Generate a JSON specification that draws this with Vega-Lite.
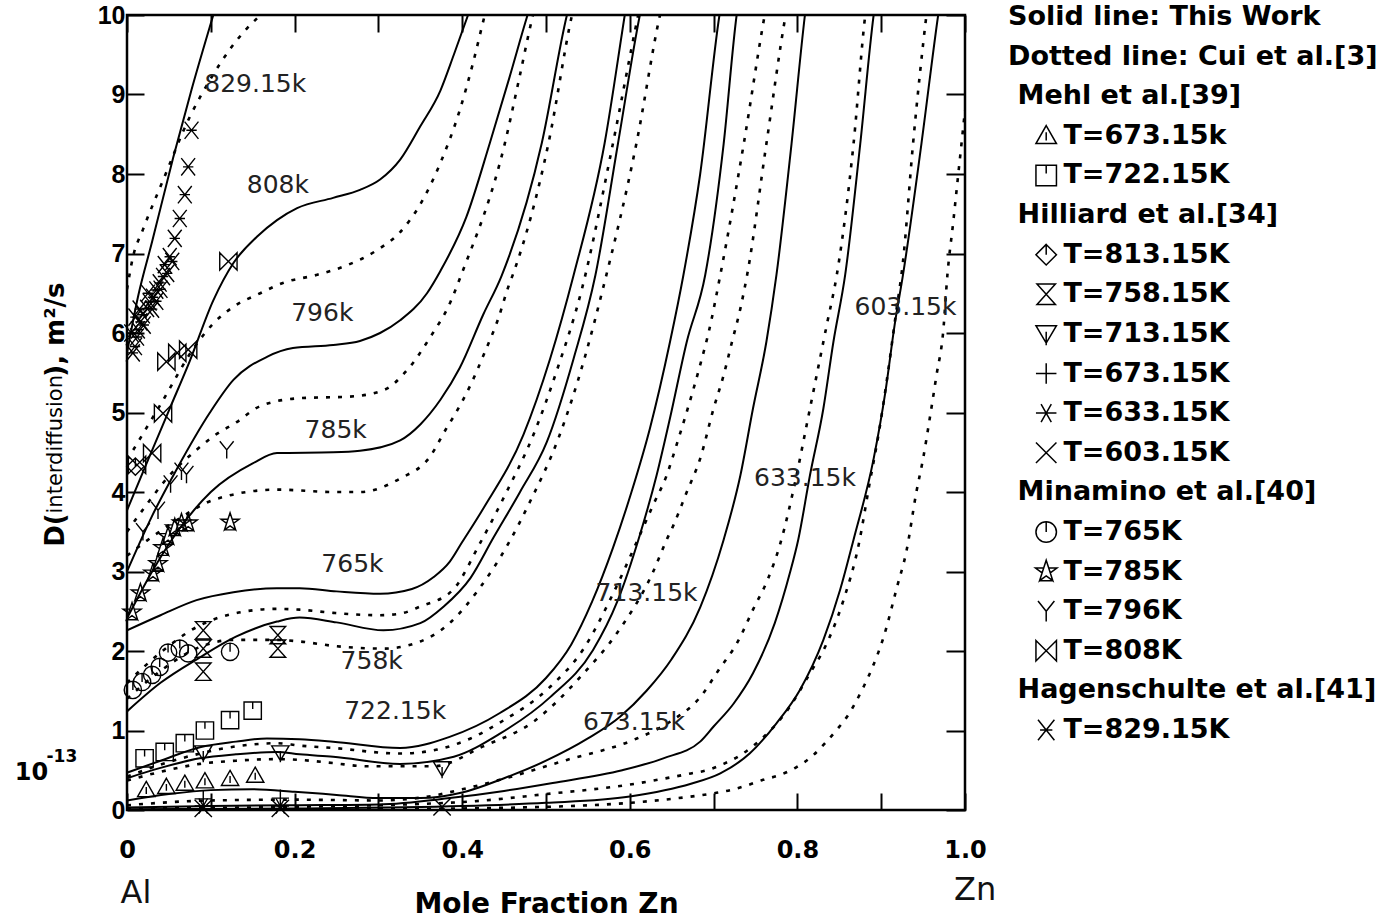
{
  "$schema": "https://vega.github.io/schema/vega-lite/v6.json",
  "width": 838,
  "height": 795,
  "autosize": {"type": "none"},
  "padding": {"left": 127, "top": 15, "right": 425, "bottom": 110},
  "background": "white",
  "config": {
    "view": {"stroke": "black", "strokeWidth": 2.5},
    "font": "DejaVu Sans",
    "axis": {"grid": false, "domain": false, "tickColor": "black", "tickWidth": 2, "labelColor": "black", "titleColor": "black"}
  },
  "datasets": {
    "curves": [
      {"curve":"829.15K","source":"This Work","x":0,"D":5.75},{"curve":"829.15K","source":"This Work","x":0.013,"D":6.45},{"curve":"829.15K","source":"This Work","x":0.03,"D":7.15},{"curve":"829.15K","source":"This Work","x":0.055,"D":8.2},{"curve":"829.15K","source":"This Work","x":0.077,"D":9.06},{"curve":"829.15K","source":"This Work","x":0.103,"D":10.0},{"curve":"829.15K","source":"This Work","x":0.12,"D":10.6},
      {"curve":"808K","source":"This Work","x":0,"D":3.77},{"curve":"808K","source":"This Work","x":0.025,"D":4.4},{"curve":"808K","source":"This Work","x":0.051,"D":5.05},{"curve":"808K","source":"This Work","x":0.075,"D":5.65},{"curve":"808K","source":"This Work","x":0.103,"D":6.41},{"curve":"808K","source":"This Work","x":0.127,"D":6.88},{"curve":"808K","source":"This Work","x":0.155,"D":7.21},{"curve":"808K","source":"This Work","x":0.179,"D":7.42},{"curve":"808K","source":"This Work","x":0.203,"D":7.57},{"curve":"808K","source":"This Work","x":0.246,"D":7.7},{"curve":"808K","source":"This Work","x":0.278,"D":7.8},{"curve":"808K","source":"This Work","x":0.302,"D":7.93},{"curve":"808K","source":"This Work","x":0.326,"D":8.18},{"curve":"808K","source":"This Work","x":0.35,"D":8.6},{"curve":"808K","source":"This Work","x":0.374,"D":9.05},{"curve":"808K","source":"This Work","x":0.39,"D":9.5},{"curve":"808K","source":"This Work","x":0.407,"D":10.0},{"curve":"808K","source":"This Work","x":0.42,"D":10.4},
      {"curve":"796K","source":"This Work","x":0,"D":3.0},{"curve":"796K","source":"This Work","x":0.03,"D":3.7},{"curve":"796K","source":"This Work","x":0.06,"D":4.3},{"curve":"796K","source":"This Work","x":0.099,"D":5.0},{"curve":"796K","source":"This Work","x":0.127,"D":5.41},{"curve":"796K","source":"This Work","x":0.167,"D":5.7},{"curve":"796K","source":"This Work","x":0.198,"D":5.81},{"curve":"796K","source":"This Work","x":0.246,"D":5.85},{"curve":"796K","source":"This Work","x":0.278,"D":5.9},{"curve":"796K","source":"This Work","x":0.302,"D":6.0},{"curve":"796K","source":"This Work","x":0.326,"D":6.16},{"curve":"796K","source":"This Work","x":0.358,"D":6.5},{"curve":"796K","source":"This Work","x":0.374,"D":6.78},{"curve":"796K","source":"This Work","x":0.405,"D":7.46},{"curve":"796K","source":"This Work","x":0.433,"D":8.39},{"curve":"796K","source":"This Work","x":0.456,"D":9.2},{"curve":"796K","source":"This Work","x":0.478,"D":10.0},{"curve":"796K","source":"This Work","x":0.49,"D":10.4},
      {"curve":"785K","source":"This Work","x":0,"D":2.41},{"curve":"785K","source":"This Work","x":0.03,"D":3.0},{"curve":"785K","source":"This Work","x":0.06,"D":3.5},{"curve":"785K","source":"This Work","x":0.1,"D":4.0},{"curve":"785K","source":"This Work","x":0.15,"D":4.36},{"curve":"785K","source":"This Work","x":0.179,"D":4.49},{"curve":"785K","source":"This Work","x":0.246,"D":4.5},{"curve":"785K","source":"This Work","x":0.278,"D":4.52},{"curve":"785K","source":"This Work","x":0.326,"D":4.65},{"curve":"785K","source":"This Work","x":0.35,"D":4.85},{"curve":"785K","source":"This Work","x":0.374,"D":5.16},{"curve":"785K","source":"This Work","x":0.397,"D":5.56},{"curve":"785K","source":"This Work","x":0.425,"D":6.23},{"curve":"785K","source":"This Work","x":0.447,"D":6.72},{"curve":"785K","source":"This Work","x":0.495,"D":8.39},{"curve":"785K","source":"This Work","x":0.525,"D":10.0},{"curve":"785K","source":"This Work","x":0.535,"D":10.4},
      {"curve":"765K","source":"This Work","x":0,"D":2.26},{"curve":"765K","source":"This Work","x":0.04,"D":2.45},{"curve":"765K","source":"This Work","x":0.083,"D":2.64},{"curve":"765K","source":"This Work","x":0.127,"D":2.74},{"curve":"765K","source":"This Work","x":0.179,"D":2.79},{"curve":"765K","source":"This Work","x":0.206,"D":2.79},{"curve":"765K","source":"This Work","x":0.25,"D":2.75},{"curve":"765K","source":"This Work","x":0.302,"D":2.72},{"curve":"765K","source":"This Work","x":0.34,"D":2.78},{"curve":"765K","source":"This Work","x":0.366,"D":2.93},{"curve":"765K","source":"This Work","x":0.385,"D":3.12},{"curve":"765K","source":"This Work","x":0.4,"D":3.37},{"curve":"765K","source":"This Work","x":0.425,"D":3.79},{"curve":"765K","source":"This Work","x":0.473,"D":4.72},{"curve":"765K","source":"This Work","x":0.505,"D":5.68},{"curve":"765K","source":"This Work","x":0.533,"D":6.73},{"curve":"765K","source":"This Work","x":0.57,"D":8.39},{"curve":"765K","source":"This Work","x":0.594,"D":10.0},{"curve":"765K","source":"This Work","x":0.6,"D":10.4},
      {"curve":"758K","source":"This Work","x":0,"D":1.24},{"curve":"758K","source":"This Work","x":0.04,"D":1.6},{"curve":"758K","source":"This Work","x":0.087,"D":1.92},{"curve":"758K","source":"This Work","x":0.13,"D":2.18},{"curve":"758K","source":"This Work","x":0.179,"D":2.37},{"curve":"758K","source":"This Work","x":0.206,"D":2.42},{"curve":"758K","source":"This Work","x":0.25,"D":2.36},{"curve":"758K","source":"This Work","x":0.306,"D":2.26},{"curve":"758K","source":"This Work","x":0.35,"D":2.35},{"curve":"758K","source":"This Work","x":0.378,"D":2.56},{"curve":"758K","source":"This Work","x":0.41,"D":2.92},{"curve":"758K","source":"This Work","x":0.437,"D":3.42},{"curve":"758K","source":"This Work","x":0.469,"D":4.0},{"curve":"758K","source":"This Work","x":0.501,"D":4.63},{"curve":"758K","source":"This Work","x":0.533,"D":5.68},{"curve":"758K","source":"This Work","x":0.559,"D":6.73},{"curve":"758K","source":"This Work","x":0.586,"D":8.39},{"curve":"758K","source":"This Work","x":0.612,"D":10.0},{"curve":"758K","source":"This Work","x":0.62,"D":10.4},
      {"curve":"722.15K","source":"This Work","x":0,"D":0.47},{"curve":"722.15K","source":"This Work","x":0.04,"D":0.62},{"curve":"722.15K","source":"This Work","x":0.087,"D":0.79},{"curve":"722.15K","source":"This Work","x":0.13,"D":0.86},{"curve":"722.15K","source":"This Work","x":0.167,"D":0.9},{"curve":"722.15K","source":"This Work","x":0.206,"D":0.89},{"curve":"722.15K","source":"This Work","x":0.246,"D":0.86},{"curve":"722.15K","source":"This Work","x":0.326,"D":0.78},{"curve":"722.15K","source":"This Work","x":0.385,"D":0.92},{"curve":"722.15K","source":"This Work","x":0.445,"D":1.22},{"curve":"722.15K","source":"This Work","x":0.5,"D":1.66},{"curve":"722.15K","source":"This Work","x":0.53,"D":2.08},{"curve":"722.15K","source":"This Work","x":0.555,"D":2.62},{"curve":"722.15K","source":"This Work","x":0.58,"D":3.3},{"curve":"722.15K","source":"This Work","x":0.602,"D":4.0},{"curve":"722.15K","source":"This Work","x":0.624,"D":4.8},{"curve":"722.15K","source":"This Work","x":0.648,"D":5.89},{"curve":"722.15K","source":"This Work","x":0.664,"D":6.73},{"curve":"722.15K","source":"This Work","x":0.684,"D":8.0},{"curve":"722.15K","source":"This Work","x":0.707,"D":10.0},{"curve":"722.15K","source":"This Work","x":0.715,"D":10.5},
      {"curve":"713.15K","source":"This Work","x":0,"D":0.4},{"curve":"713.15K","source":"This Work","x":0.04,"D":0.53},{"curve":"713.15K","source":"This Work","x":0.087,"D":0.65},{"curve":"713.15K","source":"This Work","x":0.13,"D":0.7},{"curve":"713.15K","source":"This Work","x":0.179,"D":0.73},{"curve":"713.15K","source":"This Work","x":0.206,"D":0.7},{"curve":"713.15K","source":"This Work","x":0.246,"D":0.67},{"curve":"713.15K","source":"This Work","x":0.326,"D":0.58},{"curve":"713.15K","source":"This Work","x":0.39,"D":0.67},{"curve":"713.15K","source":"This Work","x":0.445,"D":0.96},{"curve":"713.15K","source":"This Work","x":0.505,"D":1.42},{"curve":"713.15K","source":"This Work","x":0.556,"D":2.01},{"curve":"713.15K","source":"This Work","x":0.585,"D":2.62},{"curve":"713.15K","source":"This Work","x":0.612,"D":3.46},{"curve":"713.15K","source":"This Work","x":0.632,"D":4.21},{"curve":"713.15K","source":"This Work","x":0.648,"D":4.93},{"curve":"713.15K","source":"This Work","x":0.668,"D":5.89},{"curve":"713.15K","source":"This Work","x":0.69,"D":6.73},{"curve":"713.15K","source":"This Work","x":0.712,"D":8.38},{"curve":"713.15K","source":"This Work","x":0.7275,"D":10.0},{"curve":"713.15K","source":"This Work","x":0.735,"D":10.5},
      {"curve":"673.15K","source":"This Work","x":0,"D":0.12},{"curve":"673.15K","source":"This Work","x":0.05,"D":0.2},{"curve":"673.15K","source":"This Work","x":0.1,"D":0.25},{"curve":"673.15K","source":"This Work","x":0.15,"D":0.26},{"curve":"673.15K","source":"This Work","x":0.2,"D":0.23},{"curve":"673.15K","source":"This Work","x":0.25,"D":0.19},{"curve":"673.15K","source":"This Work","x":0.3,"D":0.15},{"curve":"673.15K","source":"This Work","x":0.35,"D":0.15},{"curve":"673.15K","source":"This Work","x":0.4,"D":0.22},{"curve":"673.15K","source":"This Work","x":0.45,"D":0.4},{"curve":"673.15K","source":"This Work","x":0.5,"D":0.62},{"curve":"673.15K","source":"This Work","x":0.55,"D":0.9},{"curve":"673.15K","source":"This Work","x":0.588,"D":1.17},{"curve":"673.15K","source":"This Work","x":0.62,"D":1.5},{"curve":"673.15K","source":"This Work","x":0.65,"D":1.9},{"curve":"673.15K","source":"This Work","x":0.684,"D":2.55},{"curve":"673.15K","source":"This Work","x":0.712,"D":3.4},{"curve":"673.15K","source":"This Work","x":0.732,"D":4.21},{"curve":"673.15K","source":"This Work","x":0.747,"D":5.05},{"curve":"673.15K","source":"This Work","x":0.763,"D":5.89},{"curve":"673.15K","source":"This Work","x":0.775,"D":6.73},{"curve":"673.15K","source":"This Work","x":0.793,"D":8.38},{"curve":"673.15K","source":"This Work","x":0.809,"D":10.0},{"curve":"673.15K","source":"This Work","x":0.815,"D":10.5},
      {"curve":"633.15K","source":"This Work","x":0,"D":0.03},{"curve":"633.15K","source":"This Work","x":0.1,"D":0.05},{"curve":"633.15K","source":"This Work","x":0.2,"D":0.06},{"curve":"633.15K","source":"This Work","x":0.3,"D":0.07},{"curve":"633.15K","source":"This Work","x":0.385,"D":0.15},{"curve":"633.15K","source":"This Work","x":0.45,"D":0.24},{"curve":"633.15K","source":"This Work","x":0.508,"D":0.34},{"curve":"633.15K","source":"This Work","x":0.591,"D":0.5},{"curve":"633.15K","source":"This Work","x":0.64,"D":0.65},{"curve":"633.15K","source":"This Work","x":0.684,"D":0.86},{"curve":"633.15K","source":"This Work","x":0.7,"D":1.05},{"curve":"633.15K","source":"This Work","x":0.724,"D":1.34},{"curve":"633.15K","source":"This Work","x":0.747,"D":1.72},{"curve":"633.15K","source":"This Work","x":0.773,"D":2.35},{"curve":"633.15K","source":"This Work","x":0.791,"D":2.98},{"curve":"633.15K","source":"This Work","x":0.801,"D":3.4},{"curve":"633.15K","source":"This Work","x":0.815,"D":4.21},{"curve":"633.15K","source":"This Work","x":0.831,"D":5.05},{"curve":"633.15K","source":"This Work","x":0.843,"D":5.89},{"curve":"633.15K","source":"This Work","x":0.857,"D":6.73},{"curve":"633.15K","source":"This Work","x":0.875,"D":8.38},{"curve":"633.15K","source":"This Work","x":0.891,"D":10.0},{"curve":"633.15K","source":"This Work","x":0.898,"D":10.5},
      {"curve":"603.15K","source":"This Work","x":0,"D":0.01},{"curve":"603.15K","source":"This Work","x":0.2,"D":0.02},{"curve":"603.15K","source":"This Work","x":0.4,"D":0.05},{"curve":"603.15K","source":"This Work","x":0.5,"D":0.09},{"curve":"603.15K","source":"This Work","x":0.6,"D":0.17},{"curve":"603.15K","source":"This Work","x":0.673,"D":0.33},{"curve":"603.15K","source":"This Work","x":0.708,"D":0.46},{"curve":"603.15K","source":"This Work","x":0.743,"D":0.71},{"curve":"603.15K","source":"This Work","x":0.775,"D":1.09},{"curve":"603.15K","source":"This Work","x":0.803,"D":1.51},{"curve":"603.15K","source":"This Work","x":0.831,"D":2.14},{"curve":"603.15K","source":"This Work","x":0.851,"D":2.77},{"curve":"603.15K","source":"This Work","x":0.867,"D":3.4},{"curve":"603.15K","source":"This Work","x":0.891,"D":4.42},{"curve":"603.15K","source":"This Work","x":0.905,"D":5.26},{"curve":"603.15K","source":"This Work","x":0.916,"D":6.1},{"curve":"603.15K","source":"This Work","x":0.926,"D":6.73},{"curve":"603.15K","source":"This Work","x":0.948,"D":8.38},{"curve":"603.15K","source":"This Work","x":0.968,"D":10.0},{"curve":"603.15K","source":"This Work","x":0.975,"D":10.5},

      {"curve":"829.15K","source":"Cui et al.","x":0,"D":6.55},{"curve":"829.15K","source":"Cui et al.","x":0.007,"D":6.95},{"curve":"829.15K","source":"Cui et al.","x":0.019,"D":7.3},{"curve":"829.15K","source":"Cui et al.","x":0.043,"D":7.92},{"curve":"829.15K","source":"Cui et al.","x":0.075,"D":8.72},{"curve":"829.15K","source":"Cui et al.","x":0.1,"D":9.2},{"curve":"829.15K","source":"Cui et al.","x":0.125,"D":9.6},{"curve":"829.15K","source":"Cui et al.","x":0.143,"D":9.83},{"curve":"829.15K","source":"Cui et al.","x":0.159,"D":10.0},{"curve":"829.15K","source":"Cui et al.","x":0.175,"D":10.2},
      {"curve":"808K","source":"Cui et al.","x":0,"D":4.4},{"curve":"808K","source":"Cui et al.","x":0.04,"D":5.1},{"curve":"808K","source":"Cui et al.","x":0.081,"D":5.83},{"curve":"808K","source":"Cui et al.","x":0.103,"D":6.12},{"curve":"808K","source":"Cui et al.","x":0.127,"D":6.33},{"curve":"808K","source":"Cui et al.","x":0.159,"D":6.5},{"curve":"808K","source":"Cui et al.","x":0.186,"D":6.63},{"curve":"808K","source":"Cui et al.","x":0.226,"D":6.73},{"curve":"808K","source":"Cui et al.","x":0.262,"D":6.85},{"curve":"808K","source":"Cui et al.","x":0.298,"D":7.04},{"curve":"808K","source":"Cui et al.","x":0.326,"D":7.27},{"curve":"808K","source":"Cui et al.","x":0.35,"D":7.62},{"curve":"808K","source":"Cui et al.","x":0.374,"D":8.14},{"curve":"808K","source":"Cui et al.","x":0.397,"D":8.8},{"curve":"808K","source":"Cui et al.","x":0.413,"D":9.4},{"curve":"808K","source":"Cui et al.","x":0.427,"D":10.0},{"curve":"808K","source":"Cui et al.","x":0.44,"D":10.5},
      {"curve":"796K","source":"Cui et al.","x":0,"D":3.5},{"curve":"796K","source":"Cui et al.","x":0.024,"D":3.85},{"curve":"796K","source":"Cui et al.","x":0.05,"D":4.2},{"curve":"796K","source":"Cui et al.","x":0.083,"D":4.53},{"curve":"796K","source":"Cui et al.","x":0.103,"D":4.7},{"curve":"796K","source":"Cui et al.","x":0.131,"D":4.88},{"curve":"796K","source":"Cui et al.","x":0.159,"D":5.08},{"curve":"796K","source":"Cui et al.","x":0.206,"D":5.18},{"curve":"796K","source":"Cui et al.","x":0.266,"D":5.2},{"curve":"796K","source":"Cui et al.","x":0.306,"D":5.28},{"curve":"796K","source":"Cui et al.","x":0.334,"D":5.53},{"curve":"796K","source":"Cui et al.","x":0.365,"D":6.0},{"curve":"796K","source":"Cui et al.","x":0.382,"D":6.3},{"curve":"796K","source":"Cui et al.","x":0.401,"D":6.79},{"curve":"796K","source":"Cui et al.","x":0.451,"D":8.39},{"curve":"796K","source":"Cui et al.","x":0.468,"D":9.2},{"curve":"796K","source":"Cui et al.","x":0.4845,"D":10.0},{"curve":"796K","source":"Cui et al.","x":0.495,"D":10.4},
      {"curve":"785K","source":"Cui et al.","x":0,"D":3.2},{"curve":"785K","source":"Cui et al.","x":0.06,"D":3.65},{"curve":"785K","source":"Cui et al.","x":0.103,"D":3.9},{"curve":"785K","source":"Cui et al.","x":0.179,"D":4.03},{"curve":"785K","source":"Cui et al.","x":0.246,"D":4.0},{"curve":"785K","source":"Cui et al.","x":0.278,"D":4.0},{"curve":"785K","source":"Cui et al.","x":0.326,"D":4.17},{"curve":"785K","source":"Cui et al.","x":0.362,"D":4.45},{"curve":"785K","source":"Cui et al.","x":0.38,"D":4.78},{"curve":"785K","source":"Cui et al.","x":0.391,"D":4.97},{"curve":"785K","source":"Cui et al.","x":0.411,"D":5.37},{"curve":"785K","source":"Cui et al.","x":0.427,"D":5.76},{"curve":"785K","source":"Cui et al.","x":0.443,"D":6.18},{"curve":"785K","source":"Cui et al.","x":0.455,"D":6.58},{"curve":"785K","source":"Cui et al.","x":0.461,"D":6.75},{"curve":"785K","source":"Cui et al.","x":0.503,"D":8.39},{"curve":"785K","source":"Cui et al.","x":0.531,"D":10.0},{"curve":"785K","source":"Cui et al.","x":0.54,"D":10.4},
      {"curve":"765K","source":"Cui et al.","x":0,"D":1.6},{"curve":"765K","source":"Cui et al.","x":0.04,"D":1.98},{"curve":"765K","source":"Cui et al.","x":0.083,"D":2.3},{"curve":"765K","source":"Cui et al.","x":0.127,"D":2.47},{"curve":"765K","source":"Cui et al.","x":0.179,"D":2.53},{"curve":"765K","source":"Cui et al.","x":0.206,"D":2.52},{"curve":"765K","source":"Cui et al.","x":0.246,"D":2.48},{"curve":"765K","source":"Cui et al.","x":0.3,"D":2.45},{"curve":"765K","source":"Cui et al.","x":0.326,"D":2.47},{"curve":"765K","source":"Cui et al.","x":0.35,"D":2.56},{"curve":"765K","source":"Cui et al.","x":0.389,"D":2.77},{"curve":"765K","source":"Cui et al.","x":0.421,"D":3.35},{"curve":"765K","source":"Cui et al.","x":0.451,"D":3.96},{"curve":"765K","source":"Cui et al.","x":0.485,"D":4.72},{"curve":"765K","source":"Cui et al.","x":0.513,"D":5.53},{"curve":"765K","source":"Cui et al.","x":0.543,"D":6.56},{"curve":"765K","source":"Cui et al.","x":0.58,"D":8.39},{"curve":"765K","source":"Cui et al.","x":0.61,"D":10.0},{"curve":"765K","source":"Cui et al.","x":0.618,"D":10.4},
      {"curve":"758K","source":"Cui et al.","x":0,"D":1.4},{"curve":"758K","source":"Cui et al.","x":0.04,"D":1.75},{"curve":"758K","source":"Cui et al.","x":0.087,"D":2.05},{"curve":"758K","source":"Cui et al.","x":0.127,"D":2.14},{"curve":"758K","source":"Cui et al.","x":0.179,"D":2.14},{"curve":"758K","source":"Cui et al.","x":0.206,"D":2.12},{"curve":"758K","source":"Cui et al.","x":0.25,"D":2.06},{"curve":"758K","source":"Cui et al.","x":0.306,"D":2.03},{"curve":"758K","source":"Cui et al.","x":0.35,"D":2.12},{"curve":"758K","source":"Cui et al.","x":0.385,"D":2.35},{"curve":"758K","source":"Cui et al.","x":0.42,"D":2.78},{"curve":"758K","source":"Cui et al.","x":0.455,"D":3.35},{"curve":"758K","source":"Cui et al.","x":0.481,"D":3.88},{"curve":"758K","source":"Cui et al.","x":0.515,"D":4.68},{"curve":"758K","source":"Cui et al.","x":0.547,"D":5.72},{"curve":"758K","source":"Cui et al.","x":0.568,"D":6.56},{"curve":"758K","source":"Cui et al.","x":0.608,"D":8.39},{"curve":"758K","source":"Cui et al.","x":0.636,"D":10.0},{"curve":"758K","source":"Cui et al.","x":0.645,"D":10.4},
      {"curve":"722.15K","source":"Cui et al.","x":0,"D":0.42},{"curve":"722.15K","source":"Cui et al.","x":0.04,"D":0.57},{"curve":"722.15K","source":"Cui et al.","x":0.087,"D":0.71},{"curve":"722.15K","source":"Cui et al.","x":0.13,"D":0.8},{"curve":"722.15K","source":"Cui et al.","x":0.179,"D":0.84},{"curve":"722.15K","source":"Cui et al.","x":0.206,"D":0.81},{"curve":"722.15K","source":"Cui et al.","x":0.246,"D":0.78},{"curve":"722.15K","source":"Cui et al.","x":0.326,"D":0.71},{"curve":"722.15K","source":"Cui et al.","x":0.37,"D":0.76},{"curve":"722.15K","source":"Cui et al.","x":0.41,"D":0.9},{"curve":"722.15K","source":"Cui et al.","x":0.445,"D":1.1},{"curve":"722.15K","source":"Cui et al.","x":0.505,"D":1.55},{"curve":"722.15K","source":"Cui et al.","x":0.545,"D":2.03},{"curve":"722.15K","source":"Cui et al.","x":0.58,"D":2.72},{"curve":"722.15K","source":"Cui et al.","x":0.612,"D":3.46},{"curve":"722.15K","source":"Cui et al.","x":0.628,"D":3.84},{"curve":"722.15K","source":"Cui et al.","x":0.644,"D":4.21},{"curve":"722.15K","source":"Cui et al.","x":0.656,"D":4.6},{"curve":"722.15K","source":"Cui et al.","x":0.67,"D":5.08},{"curve":"722.15K","source":"Cui et al.","x":0.684,"D":5.6},{"curve":"722.15K","source":"Cui et al.","x":0.695,"D":6.05},{"curve":"722.15K","source":"Cui et al.","x":0.708,"D":6.73},{"curve":"722.15K","source":"Cui et al.","x":0.736,"D":8.38},{"curve":"722.15K","source":"Cui et al.","x":0.761,"D":10.0},{"curve":"722.15K","source":"Cui et al.","x":0.77,"D":10.5},
      {"curve":"713.15K","source":"Cui et al.","x":0,"D":0.37},{"curve":"713.15K","source":"Cui et al.","x":0.04,"D":0.48},{"curve":"713.15K","source":"Cui et al.","x":0.087,"D":0.58},{"curve":"713.15K","source":"Cui et al.","x":0.13,"D":0.62},{"curve":"713.15K","source":"Cui et al.","x":0.179,"D":0.64},{"curve":"713.15K","source":"Cui et al.","x":0.206,"D":0.63},{"curve":"713.15K","source":"Cui et al.","x":0.246,"D":0.59},{"curve":"713.15K","source":"Cui et al.","x":0.286,"D":0.55},{"curve":"713.15K","source":"Cui et al.","x":0.366,"D":0.55},{"curve":"713.15K","source":"Cui et al.","x":0.425,"D":0.8},{"curve":"713.15K","source":"Cui et al.","x":0.485,"D":1.11},{"curve":"713.15K","source":"Cui et al.","x":0.545,"D":1.72},{"curve":"713.15K","source":"Cui et al.","x":0.585,"D":2.23},{"curve":"713.15K","source":"Cui et al.","x":0.628,"D":3.0},{"curve":"713.15K","source":"Cui et al.","x":0.644,"D":3.4},{"curve":"713.15K","source":"Cui et al.","x":0.652,"D":3.58},{"curve":"713.15K","source":"Cui et al.","x":0.668,"D":4.0},{"curve":"713.15K","source":"Cui et al.","x":0.684,"D":4.42},{"curve":"713.15K","source":"Cui et al.","x":0.7,"D":5.05},{"curve":"713.15K","source":"Cui et al.","x":0.712,"D":5.47},{"curve":"713.15K","source":"Cui et al.","x":0.722,"D":5.89},{"curve":"713.15K","source":"Cui et al.","x":0.732,"D":6.31},{"curve":"713.15K","source":"Cui et al.","x":0.74,"D":6.73},{"curve":"713.15K","source":"Cui et al.","x":0.763,"D":8.38},{"curve":"713.15K","source":"Cui et al.","x":0.786,"D":10.0},{"curve":"713.15K","source":"Cui et al.","x":0.795,"D":10.5},
      {"curve":"673.15K","source":"Cui et al.","x":0,"D":0.06},{"curve":"673.15K","source":"Cui et al.","x":0.1,"D":0.12},{"curve":"673.15K","source":"Cui et al.","x":0.2,"D":0.13},{"curve":"673.15K","source":"Cui et al.","x":0.3,"D":0.12},{"curve":"673.15K","source":"Cui et al.","x":0.36,"D":0.17},{"curve":"673.15K","source":"Cui et al.","x":0.4,"D":0.26},{"curve":"673.15K","source":"Cui et al.","x":0.445,"D":0.38},{"curve":"673.15K","source":"Cui et al.","x":0.525,"D":0.63},{"curve":"673.15K","source":"Cui et al.","x":0.604,"D":0.88},{"curve":"673.15K","source":"Cui et al.","x":0.648,"D":1.11},{"curve":"673.15K","source":"Cui et al.","x":0.684,"D":1.42},{"curve":"673.15K","source":"Cui et al.","x":0.706,"D":1.76},{"curve":"673.15K","source":"Cui et al.","x":0.729,"D":2.12},{"curve":"673.15K","source":"Cui et al.","x":0.747,"D":2.52},{"curve":"673.15K","source":"Cui et al.","x":0.765,"D":2.91},{"curve":"673.15K","source":"Cui et al.","x":0.779,"D":3.33},{"curve":"673.15K","source":"Cui et al.","x":0.799,"D":4.21},{"curve":"673.15K","source":"Cui et al.","x":0.811,"D":4.84},{"curve":"673.15K","source":"Cui et al.","x":0.823,"D":5.47},{"curve":"673.15K","source":"Cui et al.","x":0.835,"D":6.1},{"curve":"673.15K","source":"Cui et al.","x":0.847,"D":6.73},{"curve":"673.15K","source":"Cui et al.","x":0.867,"D":8.38},{"curve":"673.15K","source":"Cui et al.","x":0.881,"D":10.0},{"curve":"673.15K","source":"Cui et al.","x":0.888,"D":10.5},
      {"curve":"633.15K","source":"Cui et al.","x":0,"D":0.02},{"curve":"633.15K","source":"Cui et al.","x":0.2,"D":0.04},{"curve":"633.15K","source":"Cui et al.","x":0.4,"D":0.1},{"curve":"633.15K","source":"Cui et al.","x":0.5,"D":0.2},{"curve":"633.15K","source":"Cui et al.","x":0.6,"D":0.32},{"curve":"633.15K","source":"Cui et al.","x":0.673,"D":0.46},{"curve":"633.15K","source":"Cui et al.","x":0.692,"D":0.5},{"curve":"633.15K","source":"Cui et al.","x":0.712,"D":0.58},{"curve":"633.15K","source":"Cui et al.","x":0.732,"D":0.69},{"curve":"633.15K","source":"Cui et al.","x":0.749,"D":0.82},{"curve":"633.15K","source":"Cui et al.","x":0.791,"D":1.3},{"curve":"633.15K","source":"Cui et al.","x":0.815,"D":1.72},{"curve":"633.15K","source":"Cui et al.","x":0.833,"D":2.05},{"curve":"633.15K","source":"Cui et al.","x":0.855,"D":2.64},{"curve":"633.15K","source":"Cui et al.","x":0.873,"D":3.33},{"curve":"633.15K","source":"Cui et al.","x":0.886,"D":4.1},{"curve":"633.15K","source":"Cui et al.","x":0.898,"D":4.8},{"curve":"633.15K","source":"Cui et al.","x":0.908,"D":5.5},{"curve":"633.15K","source":"Cui et al.","x":0.917,"D":6.2},{"curve":"633.15K","source":"Cui et al.","x":0.926,"D":6.9},{"curve":"633.15K","source":"Cui et al.","x":0.938,"D":8.38},{"curve":"633.15K","source":"Cui et al.","x":0.954,"D":10.0},{"curve":"633.15K","source":"Cui et al.","x":0.96,"D":10.5},
      {"curve":"603.15K","source":"Cui et al.","x":0,"D":0.0},{"curve":"603.15K","source":"Cui et al.","x":0.3,"D":0.01},{"curve":"603.15K","source":"Cui et al.","x":0.5,"D":0.04},{"curve":"603.15K","source":"Cui et al.","x":0.6,"D":0.09},{"curve":"603.15K","source":"Cui et al.","x":0.65,"D":0.14},{"curve":"603.15K","source":"Cui et al.","x":0.7,"D":0.21},{"curve":"603.15K","source":"Cui et al.","x":0.72,"D":0.25},{"curve":"603.15K","source":"Cui et al.","x":0.74,"D":0.31},{"curve":"603.15K","source":"Cui et al.","x":0.759,"D":0.38},{"curve":"603.15K","source":"Cui et al.","x":0.779,"D":0.44},{"curve":"603.15K","source":"Cui et al.","x":0.799,"D":0.54},{"curve":"603.15K","source":"Cui et al.","x":0.819,"D":0.69},{"curve":"603.15K","source":"Cui et al.","x":0.833,"D":0.84},{"curve":"603.15K","source":"Cui et al.","x":0.847,"D":1.01},{"curve":"603.15K","source":"Cui et al.","x":0.859,"D":1.17},{"curve":"603.15K","source":"Cui et al.","x":0.879,"D":1.55},{"curve":"603.15K","source":"Cui et al.","x":0.889,"D":1.78},{"curve":"603.15K","source":"Cui et al.","x":0.903,"D":2.18},{"curve":"603.15K","source":"Cui et al.","x":0.919,"D":2.81},{"curve":"603.15K","source":"Cui et al.","x":0.93,"D":3.25},{"curve":"603.15K","source":"Cui et al.","x":0.942,"D":4.0},{"curve":"603.15K","source":"Cui et al.","x":0.95,"D":4.42},{"curve":"603.15K","source":"Cui et al.","x":0.958,"D":4.93},{"curve":"603.15K","source":"Cui et al.","x":0.966,"D":5.47},{"curve":"603.15K","source":"Cui et al.","x":0.974,"D":6.02},{"curve":"603.15K","source":"Cui et al.","x":0.979,"D":6.73},{"curve":"603.15K","source":"Cui et al.","x":0.986,"D":7.4},{"curve":"603.15K","source":"Cui et al.","x":0.992,"D":8.0},{"curve":"603.15K","source":"Cui et al.","x":0.998,"D":8.6},{"curve":"603.15K","source":"Cui et al.","x":1.0,"D":8.8}
    ],
    "measured": [
      {"series":"Mehl 673.15k","x":0.023,"D":0.25},{"series":"Mehl 673.15k","x":0.047,"D":0.29},{"series":"Mehl 673.15k","x":0.069,"D":0.33},{"series":"Mehl 673.15k","x":0.093,"D":0.36},{"series":"Mehl 673.15k","x":0.123,"D":0.39},{"series":"Mehl 673.15k","x":0.153,"D":0.43},
      {"series":"Mehl 722.15K","x":0.021,"D":0.65},{"series":"Mehl 722.15K","x":0.045,"D":0.73},{"series":"Mehl 722.15K","x":0.069,"D":0.84},{"series":"Mehl 722.15K","x":0.093,"D":1.0},{"series":"Mehl 722.15K","x":0.123,"D":1.13},{"series":"Mehl 722.15K","x":0.15,"D":1.25},
      {"series":"Hilliard 813.15K","x":0.01,"D":4.32},
      {"series":"Hilliard 758.15K","x":0.091,"D":2.26},{"series":"Hilliard 758.15K","x":0.091,"D":2.03},{"series":"Hilliard 758.15K","x":0.091,"D":1.74},{"series":"Hilliard 758.15K","x":0.18,"D":2.2},{"series":"Hilliard 758.15K","x":0.18,"D":2.03},
      {"series":"Hilliard 713.15K","x":0.091,"D":0.72},{"series":"Hilliard 713.15K","x":0.183,"D":0.72},{"series":"Hilliard 713.15K","x":0.376,"D":0.52},
      {"series":"Hilliard 673.15K","x":0.091,"D":0.14},{"series":"Hilliard 673.15K","x":0.183,"D":0.15},
      {"series":"Hilliard 633.15K","x":0.091,"D":0.05},{"series":"Hilliard 633.15K","x":0.183,"D":0.05},
      {"series":"Hilliard 603.15K","x":0.091,"D":0.02},{"series":"Hilliard 603.15K","x":0.183,"D":0.02},{"series":"Hilliard 603.15K","x":0.376,"D":0.04},
      {"series":"Minamino 765K","x":0.007,"D":1.51},{"series":"Minamino 765K","x":0.018,"D":1.61},{"series":"Minamino 765K","x":0.03,"D":1.7},{"series":"Minamino 765K","x":0.039,"D":1.8},{"series":"Minamino 765K","x":0.049,"D":1.98},{"series":"Minamino 765K","x":0.063,"D":2.03},{"series":"Minamino 765K","x":0.073,"D":1.97},{"series":"Minamino 765K","x":0.123,"D":1.99},
      {"series":"Minamino 785K","x":0.006,"D":2.49},{"series":"Minamino 785K","x":0.016,"D":2.73},{"series":"Minamino 785K","x":0.031,"D":2.98},{"series":"Minamino 785K","x":0.037,"D":3.1},{"series":"Minamino 785K","x":0.043,"D":3.3},{"series":"Minamino 785K","x":0.049,"D":3.44},{"series":"Minamino 785K","x":0.057,"D":3.55},{"series":"Minamino 785K","x":0.065,"D":3.61},{"series":"Minamino 785K","x":0.073,"D":3.61},{"series":"Minamino 785K","x":0.123,"D":3.62},
      {"series":"Minamino 796K","x":0.019,"D":3.5},{"series":"Minamino 796K","x":0.037,"D":3.77},{"series":"Minamino 796K","x":0.052,"D":4.1},{"series":"Minamino 796K","x":0.065,"D":4.26},{"series":"Minamino 796K","x":0.071,"D":4.22},{"series":"Minamino 796K","x":0.119,"D":4.53},
      {"series":"Minamino 808K","x":0.012,"D":4.34},{"series":"Minamino 808K","x":0.03,"D":4.49},{"series":"Minamino 808K","x":0.043,"D":4.99},{"series":"Minamino 808K","x":0.047,"D":5.64},{"series":"Minamino 808K","x":0.06,"D":5.75},{"series":"Minamino 808K","x":0.073,"D":5.79},{"series":"Minamino 808K","x":0.121,"D":6.9},
      {"series":"Hagenschulte 829.15K","x":0.007,"D":5.75},{"series":"Hagenschulte 829.15K","x":0.0095,"D":5.83},{"series":"Hagenschulte 829.15K","x":0.012,"D":5.95},{"series":"Hagenschulte 829.15K","x":0.013,"D":6.04},{"series":"Hagenschulte 829.15K","x":0.016,"D":6.14},{"series":"Hagenschulte 829.15K","x":0.019,"D":6.23},{"series":"Hagenschulte 829.15K","x":0.024,"D":6.31},{"series":"Hagenschulte 829.15K","x":0.027,"D":6.39},{"series":"Hagenschulte 829.15K","x":0.031,"D":6.45},{"series":"Hagenschulte 829.15K","x":0.035,"D":6.54},{"series":"Hagenschulte 829.15K","x":0.039,"D":6.63},{"series":"Hagenschulte 829.15K","x":0.043,"D":6.71},{"series":"Hagenschulte 829.15K","x":0.045,"D":6.86},{"series":"Hagenschulte 829.15K","x":0.051,"D":6.96},{"series":"Hagenschulte 829.15K","x":0.057,"D":7.19},{"series":"Hagenschulte 829.15K","x":0.063,"D":7.44},{"series":"Hagenschulte 829.15K","x":0.069,"D":7.74},{"series":"Hagenschulte 829.15K","x":0.073,"D":8.09},{"series":"Hagenschulte 829.15K","x":0.077,"D":8.55},{"series":"Hagenschulte 829.15K","x":0.005,"D":6.0},{"series":"Hagenschulte 829.15K","x":0.01,"D":6.2},{"series":"Hagenschulte 829.15K","x":0.015,"D":6.3},{"series":"Hagenschulte 829.15K","x":0.02,"D":6.1},{"series":"Hagenschulte 829.15K","x":0.025,"D":6.5},{"series":"Hagenschulte 829.15K","x":0.03,"D":6.3},{"series":"Hagenschulte 829.15K","x":0.035,"D":6.4},{"series":"Hagenschulte 829.15K","x":0.04,"D":6.55},{"series":"Hagenschulte 829.15K","x":0.048,"D":6.75},{"series":"Hagenschulte 829.15K","x":0.054,"D":6.9}
    ],
    "curveLabels": [
      {"text":"829.15k","x":0.153,"D":9.13},{"text":"808k","x":0.18,"D":7.86},{"text":"796k","x":0.233,"D":6.25},{"text":"785k","x":0.249,"D":4.78},{"text":"765k","x":0.269,"D":3.1},{"text":"758k","x":0.292,"D":1.87},{"text":"722.15k","x":0.32,"D":1.24},{"text":"713.15k","x":0.62,"D":2.73},{"text":"673.15k","x":0.605,"D":1.11},{"text":"633.15k","x":0.809,"D":4.18},{"text":"603.15k","x":0.929,"D":6.33}
    ],
    "legendRows": [
      {"label":"Solid line: This Work","kind":"note"},
      {"label":"Dotted line: Cui et al.[3]","kind":"note"},
      {"label":"Mehl et al.[39]","kind":"group"},
      {"label":"T=673.15k","kind":"item","series":"Mehl 673.15k"},
      {"label":"T=722.15K","kind":"item","series":"Mehl 722.15K"},
      {"label":"Hilliard et al.[34]","kind":"group"},
      {"label":"T=813.15K","kind":"item","series":"Hilliard 813.15K"},
      {"label":"T=758.15K","kind":"item","series":"Hilliard 758.15K"},
      {"label":"T=713.15K","kind":"item","series":"Hilliard 713.15K"},
      {"label":"T=673.15K","kind":"item","series":"Hilliard 673.15K"},
      {"label":"T=633.15K","kind":"item","series":"Hilliard 633.15K"},
      {"label":"T=603.15K","kind":"item","series":"Hilliard 603.15K"},
      {"label":"Minamino et al.[40]","kind":"group"},
      {"label":"T=765K","kind":"item","series":"Minamino 765K"},
      {"label":"T=785K","kind":"item","series":"Minamino 785K"},
      {"label":"T=796K","kind":"item","series":"Minamino 796K"},
      {"label":"T=808K","kind":"item","series":"Minamino 808K"},
      {"label":"Hagenschulte et al.[41]","kind":"group"},
      {"label":"T=829.15K","kind":"item","series":"Hagenschulte 829.15K"}
    ]
  },
  "layer": [
    {
      "layer": [
        {
          "data": {"name": "curves"},
          "transform": [{"filter": "datum.source == 'This Work'"}],
          "mark": {"type": "line", "color": "black", "strokeWidth": 2, "interpolate": "monotone", "clip": true},
          "encoding": {
            "x": {"field": "x", "type": "quantitative", "scale": {"domain": [0, 1], "nice": false, "zero": false},
              "axis": {"orient": "bottom", "values": [0, 0.1, 0.2, 0.3, 0.4, 0.5, 0.6, 0.7, 0.8, 0.9, 1.0],
                "labelExpr": "datum.value == 0 ? '0' : (round(datum.value * 10) % 2 == 0 ? format(datum.value, '.1f') : '')",
                "tickSize": -17, "labelPadding": 45, "labelFont": "DejaVu Sans", "labelFontWeight": "bold", "labelFontSize": 24,
                "labelFlush": false, "labelOverlap": false,
                "title": "Mole Fraction Zn", "titleFont": "DejaVu Sans", "titleFontWeight": "bold", "titleFontSize": 28, "titlePadding": 28}},
            "y": {"field": "D", "type": "quantitative", "scale": {"domain": [0, 10], "nice": false},
              "axis": {"orient": "left", "values": [0, 1, 2, 3, 4, 5, 6, 7, 8, 9, 10], "format": "d",
                "tickSize": -17, "labelPadding": 19, "labelFont": "Liberation Sans", "labelFontWeight": "bold", "labelFontSize": 25,
                "labelFlush": false, "labelOverlap": false, "title": null}},
            "detail": {"field": "curve"}
          }
        },
        {
          "data": {"name": "curves"},
          "transform": [{"filter": "datum.source == 'Cui et al.'"}],
          "mark": {"type": "line", "color": "black", "strokeWidth": 2.6, "strokeDash": [4, 8], "interpolate": "monotone", "clip": true},
          "encoding": {
            "x": {"field": "x", "type": "quantitative", "scale": {"domain": [0, 1], "nice": false, "zero": false},
              "axis": {"orient": "top", "values": [0, 0.1, 0.2, 0.3, 0.4, 0.5, 0.6, 0.7, 0.8, 0.9, 1.0], "labels": false, "tickSize": -17, "title": null}},
            "y": {"field": "D", "type": "quantitative", "scale": {"domain": [0, 10], "nice": false},
              "axis": {"orient": "right", "values": [0, 1, 2, 3, 4, 5, 6, 7, 8, 9, 10], "labels": false, "tickSize": -19, "title": null}},
            "detail": {"field": "curve"}
          }
        },
        {
          "data": {"name": "measured"},
          "mark": {"type": "point", "filled": false, "stroke": "black", "strokeWidth": 1.4, "size": 300, "opacity": 1},
          "encoding": {
            "x": {"field": "x", "type": "quantitative", "axis": null},
            "y": {"field": "D", "type": "quantitative", "axis": null},
            "shape": {"field": "series", "type": "nominal", "legend": null,
              "scale": {
                "domain": ["Mehl 673.15k", "Mehl 722.15K", "Hilliard 813.15K", "Hilliard 758.15K", "Hilliard 713.15K", "Hilliard 673.15K", "Hilliard 633.15K", "Hilliard 603.15K", "Minamino 765K", "Minamino 785K", "Minamino 796K", "Minamino 808K", "Hagenschulte 829.15K"],
                "range": [
                  "M0,-1L1,0.75L-1,0.75Z M0,-0.35L0,0.45",
                  "M-1,-1L1,-1L1,1L-1,1Z M0,-1L0,-0.2",
                  "M0,-1L1,0L0,1L-1,0Z M0,-1L0,0",
                  "M-0.9,-1L0.9,-1L-0.9,1L0.9,1Z",
                  "M-1,-0.8L1,-0.8L0,0.9Z M0,-0.2L0,1.1",
                  "M-1,0L1,0M0,-1L0,1",
                  "M-1,0L1,0M-0.5,-0.87L0.5,0.87M-0.5,0.87L0.5,-0.87",
                  "M-1,-1L1,1M-1,1L1,-1",
                  "M-1,0A1,1,0,1,1,1,0A1,1,0,1,1,-1,0Z M0,-1L0,0",
                  "M0,-1.1L0.247,-0.34L1.046,-0.34L0.4,0.13L0.647,0.89L0,0.42L-0.647,0.89L-0.4,0.13L-1.046,-0.34L-0.247,-0.34Z M0,-1.1L0.647,0.89L-0.647,0.89Z",
                  "M0,0L0,1M0,0L-0.8,-1M0,0L0.8,-1",
                  "M-1,-1L-1,1L1,-1L1,1Z",
                  "M-0.8,-1L0.8,1M-0.8,1L0.8,-1M-0.6,0L0.6,0"
                ]
              }
            }
          }
        },
        {
          "data": {"name": "curveLabels"},
          "mark": {"type": "text", "font": "DejaVu Sans", "fontSize": 25, "color": "#222222", "align": "center", "baseline": "middle"},
          "encoding": {
            "x": {"field": "x", "type": "quantitative", "axis": null},
            "y": {"field": "D", "type": "quantitative", "axis": null},
            "text": {"field": "text"}
          }
        },
        {
          "data": {"values": [{"text": "Al", "x": 0.0107, "D": -1.044}, {"text": "Zn", "x": 1.012, "D": -1.006}]},
          "mark": {"type": "text", "font": "DejaVu Sans", "fontSize": 32, "color": "#111111", "align": "center", "baseline": "middle"},
          "encoding": {
            "x": {"field": "x", "type": "quantitative", "axis": null},
            "y": {"field": "D", "type": "quantitative", "axis": null},
            "text": {"field": "text"}
          }
        },
        {
          "data": {"values": [{"text": "D(", "x": -0.0847, "D": 3.31}]},
          "mark": {"type": "text", "font": "DejaVu Sans", "fontWeight": "bold", "fontSize": 26, "color": "black", "align": "left", "baseline": "middle", "angle": 270},
          "encoding": {
            "x": {"field": "x", "type": "quantitative", "axis": null},
            "y": {"field": "D", "type": "quantitative", "axis": null},
            "text": {"field": "text"}
          }
        },
        {
          "data": {"values": [{"text": "interdiffusion", "x": -0.0847, "D": 3.73}]},
          "mark": {"type": "text", "font": "DejaVu Sans", "fontWeight": "normal", "fontSize": 21, "color": "black", "align": "left", "baseline": "middle", "angle": 270},
          "encoding": {
            "x": {"field": "x", "type": "quantitative", "axis": null},
            "y": {"field": "D", "type": "quantitative", "axis": null},
            "text": {"field": "text"}
          }
        },
        {
          "data": {"values": [{"text": "), m²/s", "x": -0.0847, "D": 5.45}]},
          "mark": {"type": "text", "font": "DejaVu Sans", "fontWeight": "bold", "fontSize": 26, "color": "black", "align": "left", "baseline": "middle", "angle": 270},
          "encoding": {
            "x": {"field": "x", "type": "quantitative", "axis": null},
            "y": {"field": "D", "type": "quantitative", "axis": null},
            "text": {"field": "text"}
          }
        },
        {
          "data": {"values": [{"text": "10", "x": -0.134, "D": 0.38}]},
          "mark": {"type": "text", "font": "DejaVu Sans", "fontWeight": "bold", "fontSize": 24, "color": "black", "align": "left", "baseline": "alphabetic"},
          "encoding": {
            "x": {"field": "x", "type": "quantitative", "axis": null},
            "y": {"field": "D", "type": "quantitative", "axis": null},
            "text": {"field": "text"}
          }
        },
        {
          "data": {"values": [{"text": "-13", "x": -0.096, "D": 0.6}]},
          "mark": {"type": "text", "font": "DejaVu Sans", "fontWeight": "bold", "fontSize": 17, "color": "black", "align": "left", "baseline": "alphabetic"},
          "encoding": {
            "x": {"field": "x", "type": "quantitative", "axis": null},
            "y": {"field": "D", "type": "quantitative", "axis": null},
            "text": {"field": "text"}
          }
        }
      ],
      "resolve": {"axis": {"x": "independent", "y": "independent"}}
    },
    {
      "data": {"name": "legendRows"},
      "layer": [
        {
          "transform": [{"filter": "datum.kind == 'note'"}],
          "mark": {"type": "text", "font": "DejaVu Sans", "fontWeight": "bold", "fontSize": 27, "color": "black", "align": "left", "baseline": "middle"},
          "encoding": {
            "x": {"datum": 0, "type": "quantitative", "scale": {"domain": [0, 382], "range": [881, 1263]}, "axis": null},
            "y": {"field": "label", "type": "nominal", "axis": null, "scale": {"type": "point", "range": [2, 715], "padding": 0, "domain": ["Solid line: This Work", "Dotted line: Cui et al.[3]", "Mehl et al.[39]", "T=673.15k", "T=722.15K", "Hilliard et al.[34]", "T=813.15K", "T=758.15K", "T=713.15K", "T=673.15K", "T=633.15K", "T=603.15K", "Minamino et al.[40]", "T=765K", "T=785K", "T=796K", "T=808K", "Hagenschulte et al.[41]", "T=829.15K"]}},
            "text": {"field": "label"}
          }
        },
        {
          "transform": [{"filter": "datum.kind == 'group'"}],
          "mark": {"type": "text", "font": "DejaVu Sans", "fontWeight": "bold", "fontSize": 27, "color": "black", "align": "left", "baseline": "middle"},
          "encoding": {
            "x": {"datum": 10, "type": "quantitative", "axis": null},
            "y": {"field": "label", "type": "nominal", "axis": null},
            "text": {"field": "label"}
          }
        },
        {
          "transform": [{"filter": "datum.kind == 'item'"}],
          "mark": {"type": "text", "font": "DejaVu Sans", "fontWeight": "bold", "fontSize": 27, "color": "black", "align": "left", "baseline": "middle"},
          "encoding": {
            "x": {"datum": 58, "type": "quantitative", "axis": null},
            "y": {"field": "label", "type": "nominal", "axis": null},
            "text": {"field": "label"}
          }
        },
        {
          "transform": [{"filter": "datum.kind == 'item'"}],
          "mark": {"type": "point", "filled": false, "stroke": "black", "strokeWidth": 1.5, "size": 420, "opacity": 1},
          "encoding": {
            "x": {"datum": 40, "type": "quantitative", "axis": null},
            "y": {"field": "label", "type": "nominal", "axis": null},
            "shape": {"field": "series", "type": "nominal", "legend": null}
          }
        }
      ]
    }
  ],
  "resolve": {"scale": {"x": "independent", "y": "independent"}}
}
